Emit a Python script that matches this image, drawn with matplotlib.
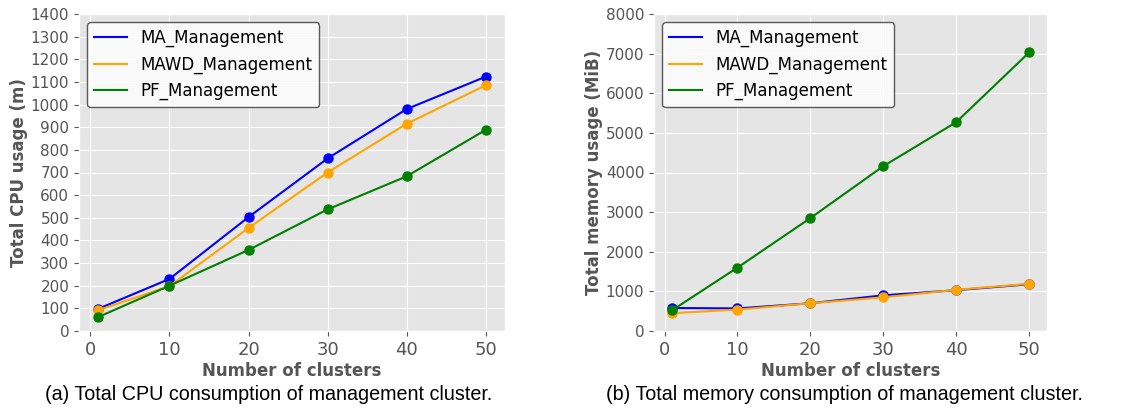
import matplotlib
matplotlib.use('Agg')
import matplotlib.pyplot as plt

plt.style.use('ggplot')

clusters = [1, 10, 20, 30, 40, 50]

cpu_ma = [98, 230, 503, 762, 980, 1123]
cpu_mawd = [92, 198, 455, 700, 915, 1085]
cpu_pf = [62, 200, 358, 537, 683, 888]

mem_ma = [580, 570, 700, 900, 1030, 1180]
mem_mawd = [450, 540, 700, 850, 1040, 1190]
mem_pf = [520, 1600, 2850, 4160, 5270, 7030]

nombres = ['MA_Management', 'MAWD_Management', 'PF_Management']
colores = ['blue', 'orange', 'green']

fig = plt.figure(figsize=(11.27, 4.08), dpi=100)
ax1 = fig.add_axes([79 / 1127, 1 - 331 / 408, 426 / 1127, 317 / 408])
ax2 = fig.add_axes([654 / 1127, 1 - 331 / 408, 393 / 1127, 317 / 408])


def dibujar(ax, series, ylim, paso, ylabel):
    for datos, nombre, color in zip(series, nombres, colores):
        # la leyenda solo lleva la linea, los puntos van aparte
        ax.plot(clusters, datos, color=color, linewidth=1.5, label=nombre)
        ax.plot(clusters, datos, color=color, marker='o', markersize=6.5, linestyle='none')
    ax.set_ylim(ylim)
    ax.set_yticks(range(0, ylim[1] + 1, paso))
    ax.set_xticks([0, 10, 20, 30, 40, 50])
    ax.tick_params(axis='x', labelsize=13, colors='#555555')
    ax.tick_params(axis='y', labelsize=11, colors='#555555')
    ax.set_xlabel('Number of clusters', fontsize=12, fontweight='bold', color='#555555', labelpad=2)
    ax.set_ylabel(ylabel, fontsize=12, fontweight='bold', color='#555555', labelpad=2)
    leg = ax.legend(loc='upper left', fontsize=12, facecolor='white', edgecolor='#333333',
                    framealpha=0.8, handlelength=2.0, borderpad=0.4)
    leg.get_frame().set_linewidth(1.0)


dibujar(ax1, [cpu_ma, cpu_mawd, cpu_pf], (0, 1400), 100, 'Total CPU usage (m)')
dibujar(ax2, [mem_ma, mem_mawd, mem_pf], (0, 8000), 1000, 'Total memory usage (MiB)')

fig.text(269 / 1127, 1 - 395 / 408, '(a) Total CPU consumption of management cluster.',
         ha='center', va='center', fontsize=14.2, family='Liberation Sans')
fig.text(844 / 1127, 1 - 395 / 408, '(b) Total memory consumption of management cluster.',
         ha='center', va='center', fontsize=14.2, family='Liberation Sans')

fig.savefig('out.png', dpi=100)
